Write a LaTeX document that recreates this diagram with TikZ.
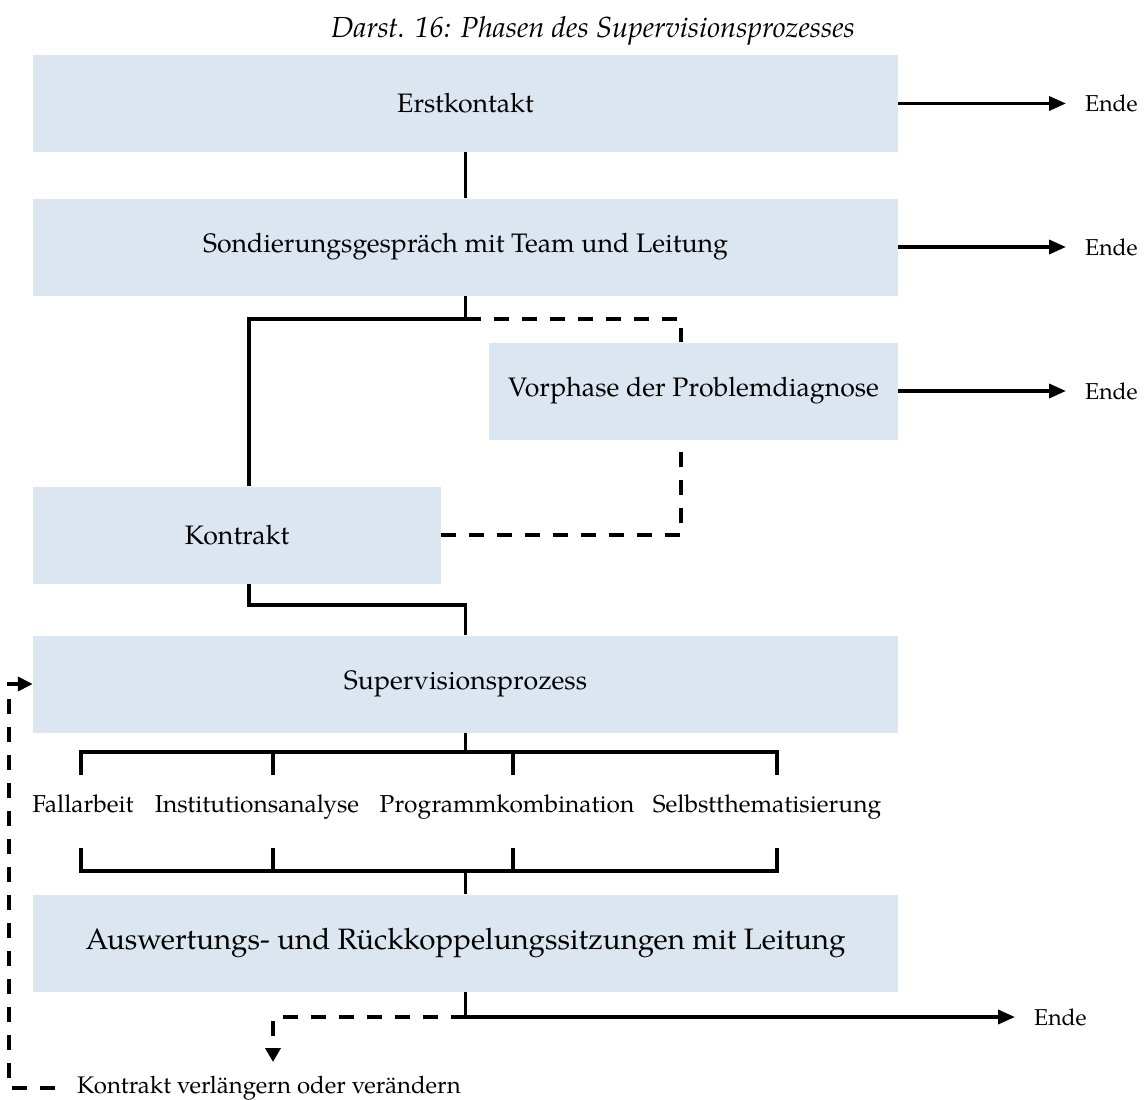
\documentclass[tikz,border=0pt]{standalone}
\usepackage{fontspec}
\setmainfont{TeX Gyre Pagella}
\usetikzlibrary{arrows.meta,calc}
\definecolor{boxblue}{RGB}{220,230,241}
\begin{document}
\begin{tikzpicture}[x=1pt,y=-1pt,
  box/.style={fill=boxblue,draw=none,minimum height=97pt,inner sep=0pt,font=\fontsize{26.7}{31}\selectfont},
  wide/.style={box,minimum width=865pt},
  half/.style={box,minimum width=409pt},
  conn/.style={line width=3.6pt},
  dconn/.style={line width=3.6pt,dash pattern=on 15pt off 13pt},
  arr/.style={conn,-{Triangle[length=17pt,width=14pt]}},
  endlbl/.style={anchor=west,inner xsep=19pt,inner ysep=0pt,font=\fontsize{23}{27}\selectfont},
  lbl/.style={anchor=base,inner sep=0pt,font=\fontsize{24.5}{29}\selectfont}]
\useasboundingbox (0,0) rectangle (1146,1100);

\node[anchor=base,inner sep=0pt,font=\itshape\fontsize{29}{34}\selectfont] (title) at (593,37) {Darst. 16: Phasen des Supervisionsprozesses};

\node[wide] (b1) at (465.5,103.5) {Erstkontakt};
\node[wide] (b2) at (465.5,247) {Sondierungsgespräch mit Team und Leitung};
\node[half] (vor) at (693.5,391) {Vorphase der Problemdiagnose};
\node[box,minimum width=408pt] (kon) at (237,535) {Kontrakt};
\node[wide] (sup) at (465.5,684) {Supervisionsprozess};
\node[wide,font=\fontsize{29.5}{35}\selectfont] (aus) at (465.5,943) {Auswertungs- und Rückkoppelungssitzungen mit Leitung};

\node[endlbl] (e1) at (1066,103.5) {Ende};
\node[endlbl] (e2) at (1066,247) {Ende};
\node[endlbl] (e3) at (1066,391) {Ende};
\node[endlbl] (e4) at (1015,1017) {Ende};

\draw[arr] (b1.east) -- (e1.west);
\draw[arr] (b2.east) -- (e2.west);
\draw[arr] (vor.east) -- (e3.west);

\draw[conn] (b1.south) -- (b2.north);
\coordinate (j1) at (465.5,319);
\draw[conn] (b2.south) -- (j1) -| ([xshift=12pt]kon.north);
\draw[dconn] (j1) -| ([xshift=-12.5pt]vor.north);
\draw[dconn] (kon.east) -| ([xshift=-12.5pt]vor.south);
\coordinate (j2) at (249,605);
\draw[conn] ([xshift=12pt]kon.south) -- (j2) -| (sup.north);

\coordinate (bt) at (465.5,752);
\coordinate (u1) at (81,775);
\coordinate (u2) at (273,775);
\coordinate (u3) at (513,775);
\coordinate (u4) at (777,775);
\draw[conn] (sup.south) -- (bt);
\draw[conn] (u1) |- (bt) -| (u4);
\draw[conn] (u2) -- (u2 |- bt);
\draw[conn] (u3) -- (u3 |- bt);

\node[lbl] (f1) at (83,812) {Fallarbeit};
\node[lbl] (f2) at (257,812) {Institutionsanalyse};
\node[lbl] (f3) at (507,812) {Programmkombination};
\node[lbl] (f4) at (767,812) {Selbstthematisierung};

\coordinate (bb) at (465.5,871);
\coordinate (l1) at (81,848);
\coordinate (l2) at (273,848);
\coordinate (l3) at (513,848);
\coordinate (l4) at (777,848);
\draw[conn] (l1) |- (bb) -| (l4);
\draw[conn] (l2) -- (l2 |- bb);
\draw[conn] (l3) -- (l3 |- bb);
\draw[conn] (bb) -- (aus.north);

\coordinate (j3) at (465.5,1017);
\draw[conn] (aus.south) -- (j3);
\draw[arr] (j3) -- (e4.west);
\coordinate (dn) at (273,1062);
\draw[dconn,-{Triangle[length=14pt,width=15pt]}] (j3) -| (dn);

\node[anchor=west,inner sep=0pt,font=\fontsize{24}{28}\selectfont] (kv) at (77,1088) {Kontrakt verlängern oder verändern};
\coordinate (fb) at (9,1088);
\draw[dconn,-{Triangle[length=15pt,width=14pt]}] ([xshift=-22pt]kv.west) -- (fb) |- (sup.west);
\end{tikzpicture}
\end{document}
